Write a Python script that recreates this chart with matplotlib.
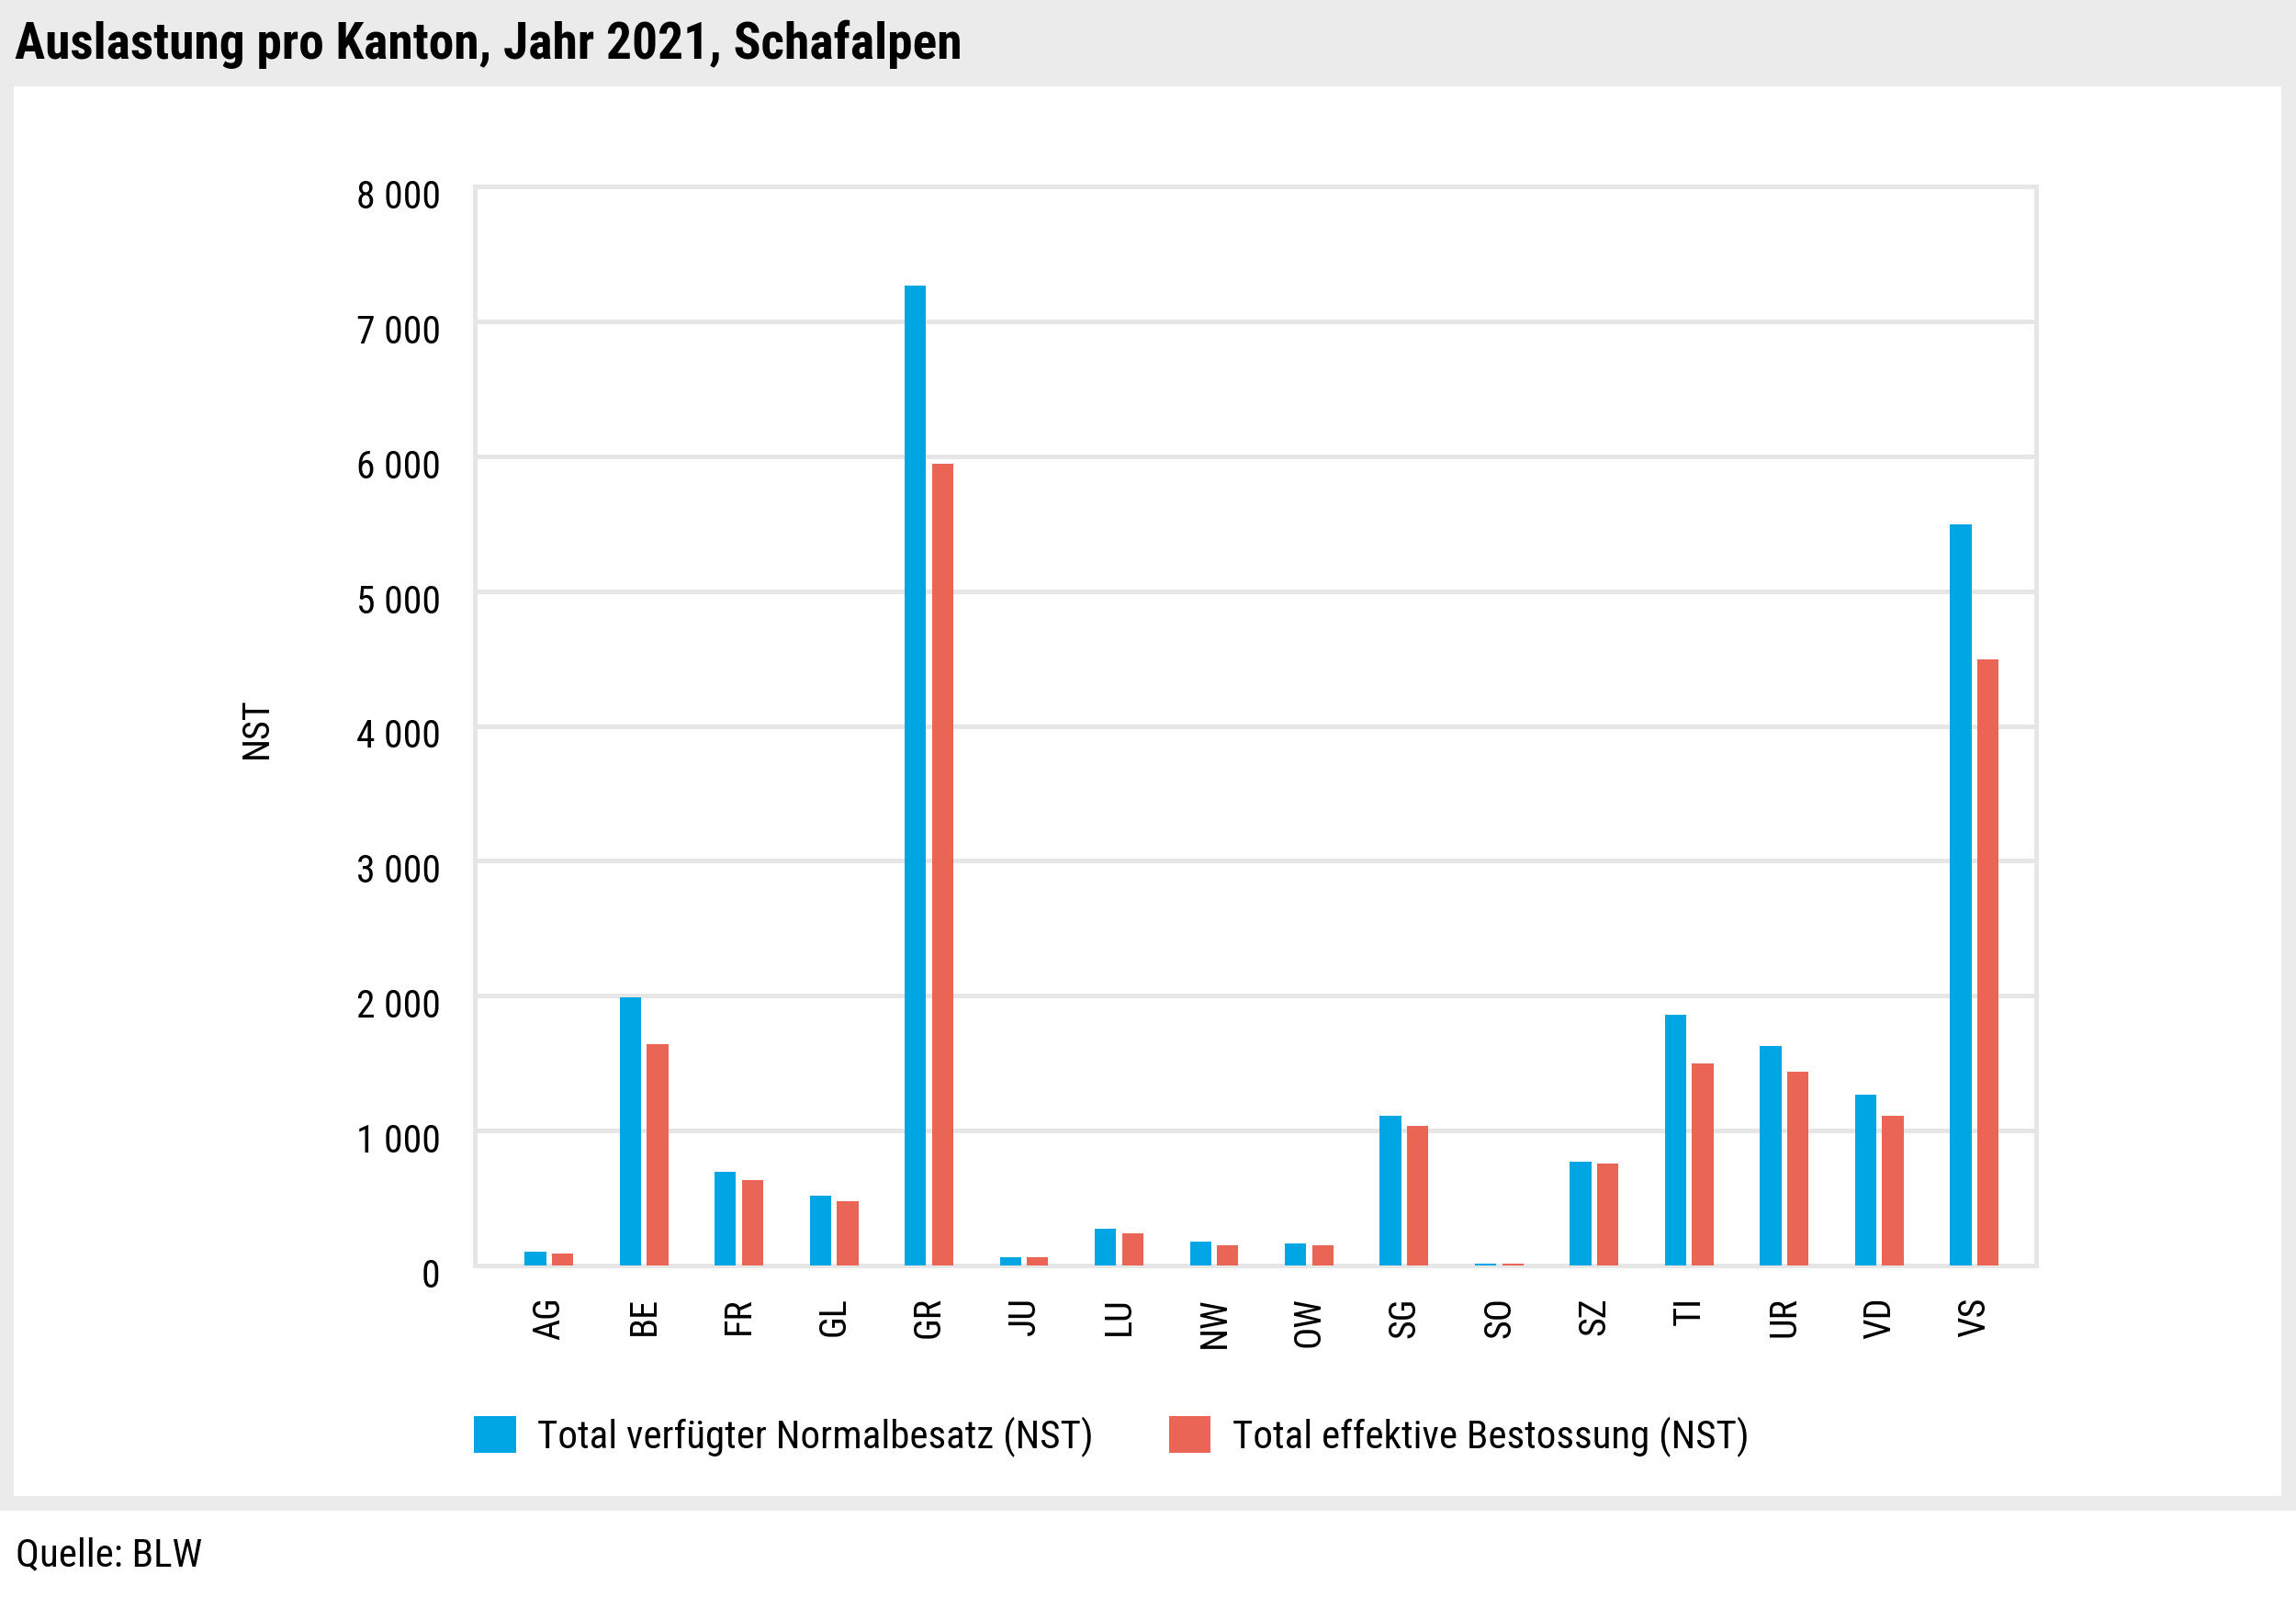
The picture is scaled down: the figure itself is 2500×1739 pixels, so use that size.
import matplotlib
matplotlib.use('Agg')
from matplotlib import font_manager
from matplotlib.patches import Rectangle, Patch
from matplotlib.ticker import FuncFormatter, MultipleLocator
import matplotlib.transforms as mtransforms
import matplotlib.pyplot as plt
import numpy as np

cantons = ['AG', 'BE', 'FR', 'GL', 'GR', 'JU', 'LU', 'NW',
           'OW', 'SG', 'SO', 'SZ', 'TI', 'UR', 'VD', 'VS']
normalbesatz = [104, 1990, 694, 519, 7262, 64, 269, 180,
                165, 1110, 16, 768, 1857, 1627, 1266, 5496]
bestossung = [90, 1643, 634, 475, 5941, 60, 238, 148,
              148, 1036, 14, 753, 1498, 1439, 1107, 4493]
series_names = ['Total verfügter Normalbesatz (NST)',
                'Total effektive Bestossung (NST)']

BLUE = '#00a5e3'
RED = '#eb6556'
GRAY = '#eaebea'
LINE = '#e6e6e6'

# condensed font if we have one
installed = {f.name for f in font_manager.fontManager.ttflist}
FONT = 'DejaVu Sans'
for name in ['Liberation Sans Narrow', 'Roboto Condensed', 'Open Sans Condensed', 'Roboto']:
    if name in installed:
        FONT = name
        break
plt.rcParams['font.family'] = [FONT, 'DejaVu Sans']

W, H = 2500, 1740
fig = plt.figure(figsize=(W / 100, H / 100), dpi=100)
fig.patch.set_facecolor('white')

# grey frame + white panel
fig.patches.append(Rectangle((0, 1 - 1646 / H), 1, 1646 / H, transform=fig.transFigure,
                             facecolor=GRAY, edgecolor='none', zorder=-2))
fig.patches.append(Rectangle((15 / W, 1 - 1630 / H), (2484 - 15) / W, (1630 - 95) / H,
                             transform=fig.transFigure, facecolor='white',
                             edgecolor='none', zorder=-1))

fig.text(16 / W, 1 - 64 / H, 'Auslastung pro Kanton, Jahr 2021, Schafalpen',
         fontsize=40, fontweight='bold', va='baseline', ha='left')
fig.text(17 / W, 1 - 1705 / H, 'Quelle: BLW', fontsize=31, va='baseline', ha='left')

ax = fig.add_axes([517 / W, 1 - 1379 / H, (2217 - 517) / W, (1379 - 204) / H])
ax.set_zorder(2)
ax.set_facecolor('white')

x = np.arange(len(cantons))
bw = 0.225
ax.bar(x - 0.143, normalbesatz, bw, color=BLUE, label=series_names[0], zorder=3)
ax.bar(x + 0.143, bestossung, bw, color=RED, label=series_names[1], zorder=3)

ax.set_xlim(-0.78, 15.65)
ax.set_ylim(0, 8000)
ax.yaxis.set_major_locator(MultipleLocator(1000))
ax.yaxis.set_major_formatter(FuncFormatter(lambda v, p: f'{int(v):,}'.replace(',', ' ')))
ax.set_xticks(x)
ax.set_xticklabels(cantons, rotation=90)
ax.tick_params(axis='y', length=0, pad=27, labelsize=30)
ax.tick_params(axis='x', length=0, pad=24, labelsize=29)

# y labels sit a little below their gridlines
shift = mtransforms.ScaledTranslation(0, -0.07, fig.dpi_scale_trans)
for lab in ax.get_yticklabels():
    lab.set_transform(lab.get_transform() + shift)

ax.grid(axis='y', color=LINE, linewidth=3.6)
ax.set_axisbelow(True)
for s in ax.spines.values():
    s.set_color(LINE)
    s.set_linewidth(3.6)

fig.text(279 / W, 1 - 793 / H, 'NST', rotation=90, fontsize=29, ha='center', va='center')

handles = [Patch(facecolor=BLUE, edgecolor='none'), Patch(facecolor=RED, edgecolor='none')]
fig.legend(handles, series_names, loc='center left',
           bbox_to_anchor=(516 / W, 1 - 1565 / H), bbox_transform=fig.transFigure,
           ncol=2, frameon=False, fontsize=31, handlelength=1.06, handleheight=1.06,
           handletextpad=0.55, columnspacing=1.9, borderpad=0, borderaxespad=0)

fig.savefig('out.png', dpi=100)
